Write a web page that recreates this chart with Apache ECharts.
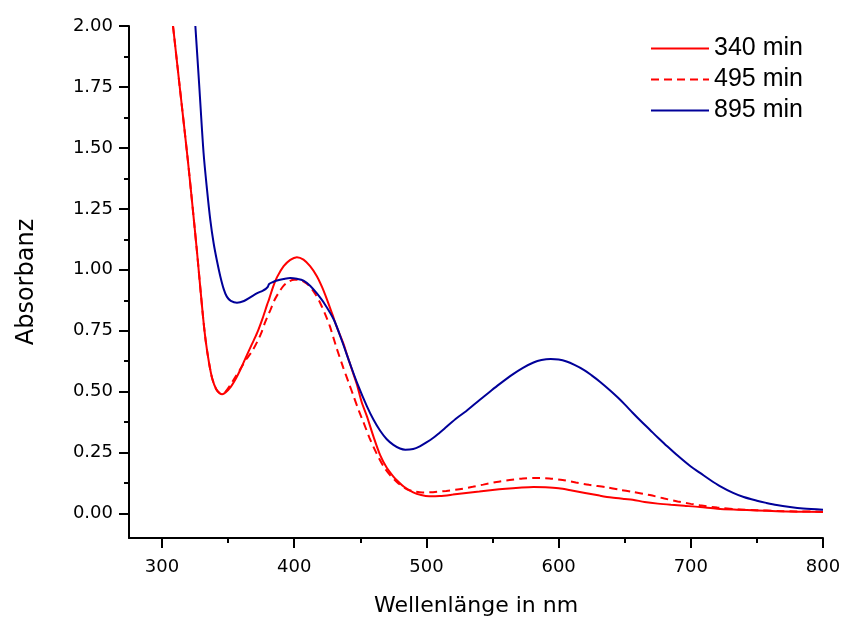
<!DOCTYPE html>
<html><head><meta charset="utf-8">
<script src="https://cdn.jsdelivr.net/npm/echarts@6/dist/echarts.min.js"></script>
<style>html,body{margin:0;padding:0;background:#fff}#c{width:842px;height:619px}</style>
</head><body><div id="c"></div>
<script>
const xTicks = [300, 400, 500, 600, 700, 800];
const xMinorTicks = [350, 450, 550, 650, 750];
const yTicks = [0, 0.25, 0.5, 0.75, 1.0, 1.25, 1.5, 1.75, 2.0];
const yMinorTicks = [0.125, 0.375, 0.625, 0.875, 1.125, 1.375, 1.625, 1.875];
const seriesNames = ['340 min', '495 min', '895 min'];

const wl340 = [308.3, 313.8, 319.5, 322.7, 326.5, 331, 333, 335.5, 338, 341, 343.5, 345.5, 348, 352, 356, 359.2, 364, 368, 372, 376, 379.5, 381, 384, 387, 392, 397, 402, 407, 412, 417, 421, 425, 429, 432, 437, 440, 444, 447.4, 451, 455, 460, 465, 470, 475, 478, 483, 490, 496, 502, 510, 520, 530, 540, 550, 560, 570, 581, 590, 600, 610, 620, 631, 640, 650, 656, 665, 675, 685, 695, 707, 720, 735, 750, 765, 780, 800];
const abs340 = [2.0, 1.73, 1.45, 1.28, 1.07, 0.807, 0.71, 0.62, 0.553, 0.51, 0.494, 0.49, 0.497, 0.52, 0.555, 0.59, 0.648, 0.695, 0.742, 0.8, 0.857, 0.88, 0.93, 0.97, 1.015, 1.041, 1.052, 1.042, 1.015, 0.975, 0.93, 0.875, 0.815, 0.768, 0.7, 0.65, 0.585, 0.53, 0.458, 0.399, 0.315, 0.24, 0.188, 0.152, 0.135, 0.11, 0.087, 0.076, 0.071, 0.072, 0.078, 0.085, 0.091, 0.097, 0.102, 0.106, 0.109, 0.108, 0.104, 0.095, 0.085, 0.074, 0.066, 0.06, 0.057, 0.048, 0.041, 0.036, 0.032, 0.027, 0.02, 0.016, 0.013, 0.01, 0.008, 0.007];

const wl495 = [308.3, 313.8, 319.5, 322.7, 326.5, 331, 333, 335.5, 338, 341, 343.5, 345.5, 348, 352, 356, 360, 364, 368, 372, 375, 378, 382, 385, 388, 392, 396, 400, 405, 409, 412, 416, 420, 424, 427, 430, 432, 437, 441, 445, 449, 452, 457, 462, 468, 473, 478, 485, 490, 497, 505, 515, 525, 535, 543, 553, 563, 573, 583, 593, 603, 613, 623, 636, 646, 656, 669, 680, 690, 700, 707, 720, 735, 750, 765, 780, 800];
const abs495 = [2.0, 1.73, 1.45, 1.28, 1.07, 0.807, 0.71, 0.62, 0.553, 0.51, 0.495, 0.492, 0.5, 0.53, 0.565, 0.6, 0.635, 0.665, 0.705, 0.74, 0.785, 0.836, 0.875, 0.904, 0.935, 0.952, 0.959, 0.957, 0.945, 0.93, 0.9, 0.86, 0.81, 0.768, 0.715, 0.68, 0.6, 0.54, 0.48, 0.42, 0.38, 0.31, 0.25, 0.19, 0.155, 0.128, 0.1, 0.092, 0.087, 0.088, 0.093, 0.1, 0.11, 0.119, 0.13, 0.138, 0.144, 0.146, 0.144, 0.138, 0.128, 0.118, 0.108, 0.098, 0.089, 0.076, 0.062, 0.05, 0.04, 0.034, 0.025, 0.018, 0.014, 0.011, 0.009, 0.008];

const wl895 = [325.2, 326.4, 328.2, 331.4, 334, 336.5, 339, 341.6, 344, 346.6, 349, 352, 356.7, 362, 367, 372, 376, 378.5, 380, 381, 384, 387, 392, 397, 402, 407, 412, 417, 423, 430, 436, 442, 448, 455, 460, 465, 470, 475, 480, 484, 490, 495, 500, 505, 510, 515, 523, 530, 540, 548, 555, 565, 573, 581, 587, 594, 600, 606, 612, 619, 625, 631, 639, 645, 650, 656, 662, 669, 675, 680, 690, 700, 707, 715, 722, 732, 740, 750, 757, 765, 775, 785, 800];
const abs895 = [2.0, 1.9, 1.75, 1.48, 1.33, 1.205, 1.11, 1.035, 0.975, 0.922, 0.89, 0.873, 0.865, 0.872, 0.888, 0.904, 0.914, 0.922, 0.93, 0.942, 0.95, 0.956, 0.962, 0.966, 0.963, 0.956, 0.935, 0.904, 0.86, 0.795, 0.71, 0.618, 0.53, 0.44, 0.385, 0.34, 0.305, 0.282, 0.267, 0.262, 0.265, 0.276, 0.292, 0.31, 0.332, 0.355, 0.392, 0.42, 0.465, 0.5, 0.53, 0.57, 0.598, 0.62, 0.63, 0.634, 0.632, 0.624, 0.61, 0.59, 0.567, 0.542, 0.505, 0.475, 0.448, 0.414, 0.381, 0.344, 0.312, 0.287, 0.238, 0.193, 0.167, 0.137, 0.113, 0.085, 0.068, 0.053, 0.044, 0.035, 0.027, 0.021, 0.016];

function pairs(xs, ys) { return xs.map((x, i) => [x, ys[i]]); }

const axisFont = 'DejaVu Sans';
const chart = echarts.init(document.getElementById('c'), null, {renderer: 'canvas'});
const option = {
  animation: false,
  backgroundColor: '#fff',
  grid: {left: 129, right: 19, top: 26, bottom: 81, containLabel: false, outerBoundsMode: 'none'},
  legend: {
    orient: 'vertical', left: 650, top: 36, padding: 0,
    itemWidth: 58, itemHeight: 14, itemGap: 6,
    data: seriesNames,
    itemStyle: {opacity: 0},
    textStyle: {fontFamily: 'Liberation Sans', fontSize: 25, color: '#000'},
    selectedMode: false
  },
  xAxis: [{
    type: 'value', min: 275, max: 800, position: 'bottom',
    name: 'Wellenlänge in nm', nameLocation: 'middle', nameGap: 57,
    nameTextStyle: {fontFamily: axisFont, fontSize: 22, color: '#000'},
    axisLine: {onZero: false, lineStyle: {color: '#000', width: 2}},
    axisTick: {show: true, customValues: xTicks, length: 10, lineStyle: {color: '#000', width: 2}},
    axisLabel: {customValues: xTicks, margin: 20, fontFamily: axisFont, fontSize: 18, color: '#000'},
    splitLine: {show: false}
  }, {
    type: 'value', min: 275, max: 800, position: 'bottom', gridIndex: 0,
    axisLine: {show: false, onZero: false},
    axisTick: {show: true, customValues: xMinorTicks, length: 5, lineStyle: {color: '#000', width: 2}},
    axisLabel: {show: false},
    splitLine: {show: false}
  }],
  yAxis: [{
    type: 'value', min: -0.1, max: 2.0, position: 'left',
    name: 'Absorbanz', nameLocation: 'middle', nameGap: 90,
    nameTextStyle: {fontFamily: axisFont, fontSize: 24, color: '#000'},
    axisLine: {show: true, onZero: false, lineStyle: {color: '#000', width: 2}},
    axisTick: {show: true, customValues: yTicks, length: 10, lineStyle: {color: '#000', width: 2}},
    axisLabel: {customValues: yTicks, margin: 16, fontFamily: axisFont, fontSize: 18, color: '#000',
      formatter: v => v.toFixed(2)},
    splitLine: {show: false}
  }, {
    type: 'value', min: -0.1, max: 2.0, position: 'left', gridIndex: 0,
    axisLine: {show: false, onZero: false},
    axisTick: {show: true, customValues: yMinorTicks, length: 5, lineStyle: {color: '#000', width: 2}},
    axisLabel: {show: false},
    splitLine: {show: false}
  }],
  series: [{
    name: seriesNames[0], type: 'line', data: pairs(wl340, abs340),
    symbol: 'none', smooth: 0.3, clip: true,
    lineStyle: {color: '#ff0000', width: 2}, itemStyle: {color: '#ff0000'},
    emphasis: {disabled: true}
  }, {
    name: seriesNames[1], type: 'line', data: pairs(wl495, abs495),
    symbol: 'none', smooth: 0.3, clip: true,
    lineStyle: {color: '#ff0000', width: 2, type: [8, 5]}, itemStyle: {color: '#ff0000'},
    emphasis: {disabled: true}
  }, {
    name: seriesNames[2], type: 'line', data: pairs(wl895, abs895),
    symbol: 'none', smooth: 0.3, clip: true,
    lineStyle: {color: '#000099', width: 2}, itemStyle: {color: '#000099'},
    emphasis: {disabled: true}
  }]
};
chart.setOption(option);
</script></body></html>
